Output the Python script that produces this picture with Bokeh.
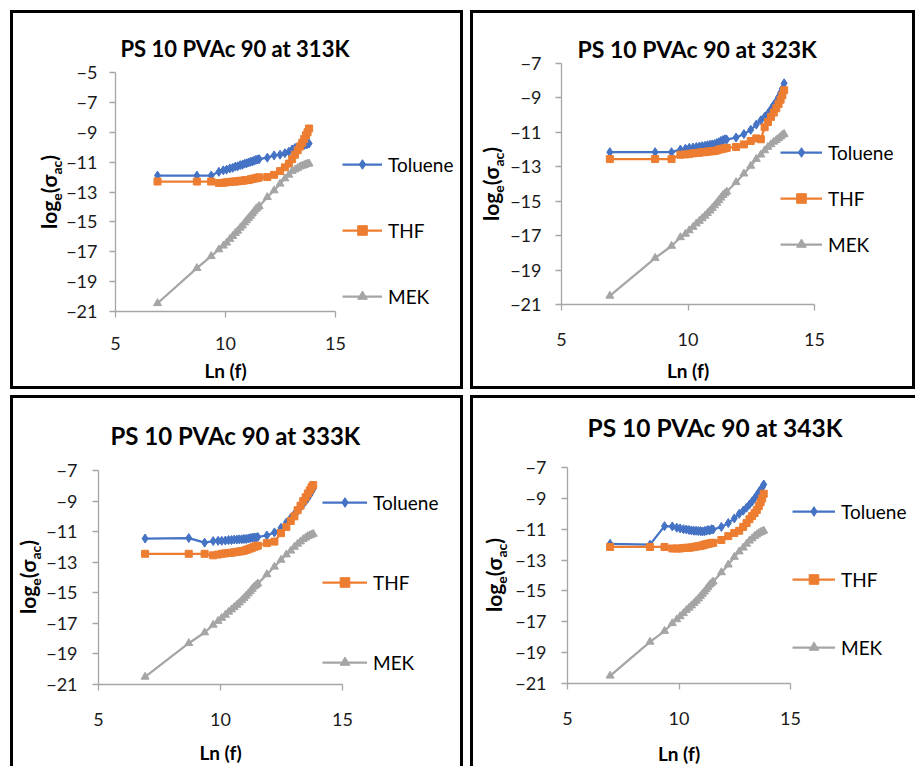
from bokeh.plotting import figure
from bokeh.models import Range1d, FixedTicker, Legend, LegendItem, Div, Spacer, Label
from bokeh.layouts import row, column
from bokeh.embed import file_html
from bokeh.resources import INLINE

# ---------------- data ----------------
ln_f = [6.91, 8.70, 9.35, 9.70, 9.90,
        10.05, 10.20, 10.33, 10.45, 10.56,
        10.67, 10.77, 10.87, 10.96, 11.05,
        11.14, 11.22, 11.30, 11.38, 11.46,
        11.53, 11.90, 12.21, 12.48, 12.70,
        12.88, 13.03, 13.16, 13.28, 13.39,
        13.49, 13.58, 13.66, 13.73, 13.80]

temperatures = ["313K", "323K", "333K", "343K"]
series_names = ["Toluene", "THF", "MEK"]

toluene_313 = [-11.9, -11.9, -11.9, -11.65, -11.55,
               -11.5, -11.42, -11.38, -11.3, -11.28,
               -11.2, -11.18, -11.1, -11.08, -11.02,
               -10.98, -10.95, -10.9, -10.85, -10.82,
               -10.8, -10.7, -10.55, -10.5, -10.4,
               -10.3, -10.15, -10.05, -10.0, -9.95,
               -9.9, -9.85, -9.82, -9.78, -9.75]
thf_313 = [-12.3, -12.3, -12.3, -12.4, -12.38,
           -12.35, -12.33, -12.3, -12.3, -12.28,
           -12.25, -12.25, -12.22, -12.2, -12.2,
           -12.15, -12.12, -12.1, -12.08, -12.05,
           -12.02, -12.0, -11.85, -11.6, -11.35,
           -11.1, -10.8, -10.5, -10.2, -9.95,
           -9.7, -9.45, -9.2, -9.0, -8.75]
mek_313 = [-20.45, -18.1, -17.3, -16.85, -16.6,
           -16.4, -16.15, -15.95, -15.75, -15.6,
           -15.4, -15.25, -15.05, -14.9, -14.75,
           -14.6, -14.45, -14.3, -14.15, -14.05,
           -13.95, -13.35, -12.9, -12.45, -12.1,
           -11.85, -11.6, -11.5, -11.4, -11.3,
           -11.25, -11.2, -11.15, -11.12, -11.1]

toluene_323 = [-12.15, -12.15, -12.15, -12.0, -11.95,
               -11.9, -11.88, -11.85, -11.82, -11.8,
               -11.78, -11.75, -11.72, -11.7, -11.68,
               -11.62, -11.58, -11.5, -11.45, -11.4,
               -11.42, -11.3, -11.1, -10.85, -10.55,
               -10.3, -10.1, -9.9, -9.65, -9.4,
               -9.2, -8.95, -8.7, -8.45, -8.15]
thf_323 = [-12.55, -12.55, -12.55, -12.3, -12.28,
           -12.25, -12.22, -12.2, -12.18, -12.15,
           -12.15, -12.12, -12.1, -12.1, -12.08,
           -12.05, -12.0, -11.98, -11.95, -11.92,
           -11.9, -11.85, -11.7, -11.5, -11.35,
           -11.4, -10.7, -10.4, -10.1, -9.85,
           -9.6, -9.35, -9.1, -8.85, -8.55]
mek_323 = [-20.5, -18.3, -17.6, -17.1, -16.9,
           -16.7, -16.5, -16.3, -16.15, -16.0,
           -15.85, -15.7, -15.55, -15.4, -15.25,
           -15.1, -14.95, -14.8, -14.65, -14.55,
           -14.45, -13.9, -13.4, -12.95, -12.55,
           -12.3, -12.05, -11.85, -11.7, -11.55,
           -11.45, -11.35, -11.25, -11.15, -11.1]

toluene_333 = [-11.45, -11.42, -11.72, -11.62, -11.6,
               -11.6, -11.58, -11.55, -11.55, -11.52,
               -11.52, -11.5, -11.5, -11.48, -11.48,
               -11.45, -11.42, -11.4, -11.38, -11.38,
               -11.35, -11.25, -11.05, -10.75, -10.4,
               -10.1, -9.85, -9.65, -9.4, -9.2,
               -9.0, -8.8, -8.6, -8.4, -8.2]
thf_333 = [-12.45, -12.45, -12.45, -12.55, -12.5,
           -12.45, -12.42, -12.4, -12.38, -12.35,
           -12.32, -12.3, -12.28, -12.25, -12.2,
           -12.15, -12.1, -12.05, -12.0, -11.95,
           -11.92, -11.75, -11.65, -11.1, -10.7,
           -10.3, -10.0, -9.6, -9.3, -9.0,
           -8.75, -8.5, -8.3, -8.1, -7.95]
mek_333 = [-20.5, -18.3, -17.6, -17.1, -16.85,
           -16.65, -16.45, -16.25, -16.1, -15.95,
           -15.8, -15.65, -15.5, -15.35, -15.2,
           -15.05, -14.9, -14.75, -14.6, -14.5,
           -14.4, -13.8, -13.3, -12.85, -12.5,
           -12.25, -12.0, -11.8, -11.65, -11.5,
           -11.4, -11.3, -11.25, -11.2, -11.15]

toluene_343 = [-11.95, -12.0, -10.8, -10.82, -10.9,
               -10.95, -11.0, -11.02, -11.05, -11.08,
               -11.1, -11.1, -11.12, -11.12, -11.15,
               -11.12, -11.1, -11.05, -11.08, -11.0,
               -11.02, -10.85, -10.6, -10.3, -10.0,
               -9.8, -9.6, -9.4, -9.2, -9.0,
               -8.8, -8.6, -8.45, -8.3, -8.1]
thf_343 = [-12.15, -12.15, -12.15, -12.25, -12.25,
           -12.25, -12.22, -12.2, -12.2, -12.18,
           -12.15, -12.12, -12.1, -12.08, -12.05,
           -12.0, -11.98, -11.95, -11.92, -11.9,
           -11.88, -11.7, -11.45, -11.25, -11.1,
           -10.85, -10.6, -10.35, -10.15, -9.95,
           -9.75, -9.5, -9.25, -9.0, -8.7]
mek_343 = [-20.5, -18.3, -17.6, -17.1, -16.85,
           -16.65, -16.45, -16.25, -16.1, -15.95,
           -15.8, -15.65, -15.5, -15.35, -15.2,
           -15.05, -14.9, -14.75, -14.6, -14.5,
           -14.4, -13.8, -13.3, -12.8, -12.45,
           -12.2, -11.95, -11.75, -11.6, -11.45,
           -11.35, -11.25, -11.2, -11.15, -11.1]

x_ticks = [5, 10, 15]
y_ticks_313 = [-21, -19, -17, -15, -13, -11, -9, -7, -5]
y_ticks_other = [-21, -19, -17, -15, -13, -11, -9, -7]

panel_series = [
    (toluene_313, thf_313, mek_313),
    (toluene_323, thf_323, mek_323),
    (toluene_333, thf_333, mek_333),
    (toluene_343, thf_343, mek_343),
]
panel_yticks = [y_ticks_313, y_ticks_other, y_ticks_other, y_ticks_other]

# ---------------- styling / layout ----------------
COLORS = ["#4472C4", "#ED7D31", "#A5A5A5"]
MARKERS = ["diamond", "square", "triangle"]
MSIZE = [9, 7, 8]
AXIS_GRAY = "#A6A6A6"
FONT = "Lato"
B = "3px solid black"

# w/h: figure size, d: y-label strip width, fw/fh: pixel size of the tick span,
# l/t/b: pixels left of, above and below the tick span
layout_cfg = [
    dict(w=397, h=373, d=50, l=52, t=59, b=75, fw=220, fh=239, tfs=22, tx=5, ty=24,
         ysd=12, xsd=19, xl=59, leg=(227, 3), lsp=42, gw=40, lx=37.5, ly=178.5,
         border={"border": B}),
    dict(w=403, h=373, d=36, l=52, t=50, b=82, fw=253, fh=241, tfs=23, tx=16, ty=15,
         ysd=14, xsd=22, xl=66, leg=(219, 48), lsp=22, gw=42, lx=19.5, ly=170.5,
         border={"border": B}),
    dict(w=414, h=368, d=33, l=52, t=72, b=82, fw=244, fh=214, tfs=24, tx=12, ty=35,
         ysd=15, xsd=22, xl=68, leg=(224, 10), lsp=56, gw=45, lx=16.5, ly=179,
         border={"border-top": B, "border-left": B, "border-right": B}),
    dict(w=400, h=368, d=42, l=52, t=69, b=83, fw=223, fh=216, tfs=24.5, tx=20, ty=40,
         ysd=15, xsd=22, xl=70, leg=(225, 24), lsp=44, gw=43, lx=22.5, ly=177,
         border={"border-top": B, "border-left": B}),
]


def make_panel(temp, series, yticks, c):
    x0, x1 = min(x_ticks), max(x_ticks)
    y0, y1 = min(yticks), max(yticks)
    ux = (x1 - x0) / c["fw"]   # data units per pixel
    uy = (y1 - y0) / c["fh"]
    # the frame fills the whole canvas; axes are pinned at the tick span so
    # that the title, the axis title and the legend are drawn inside it
    p = figure(width=c["w"], height=c["h"],
               x_range=Range1d(x0 - c["l"] * ux, x0 + (c["w"] - c["l"]) * ux),
               y_range=Range1d(y0 - c["b"] * uy, y1 + c["t"] * uy),
               output_backend="svg", toolbar_location=None,
               min_border_left=0, min_border_right=0,
               min_border_top=0, min_border_bottom=0,
               background_fill_color="white", border_fill_color="white")
    if "frame_align" in p.properties():
        p.frame_align = False
    p.grid.visible = False
    p.outline_line_color = None

    for ax in (p.xaxis, p.yaxis):
        ax.axis_line_color = AXIS_GRAY
        ax.axis_line_width = 1.3
        ax.major_tick_line_color = AXIS_GRAY
        ax.major_tick_line_width = 1.3
        ax.major_tick_out = 6
        ax.major_tick_in = 0
        ax.minor_tick_out = 0
        ax.minor_tick_in = 0
        ax.major_label_text_font = FONT
        ax.major_label_text_font_size = "18px"
        ax.major_label_text_color = "#1a1a1a"
    p.xaxis.bounds = (x0, x1)
    p.yaxis.bounds = (y0, y1)
    p.xaxis.fixed_location = y0
    p.yaxis.fixed_location = x0
    p.xaxis.ticker = FixedTicker(ticks=x_ticks)
    p.yaxis.ticker = FixedTicker(ticks=yticks)
    p.yaxis.major_label_standoff = c["ysd"]
    p.xaxis.major_label_standoff = c["xsd"]

    p.add_layout(Label(x=x0, y=y1, x_offset=c["tx"], y_offset=c["ty"],
                       text="PS 10 PVAc 90 at " + temp,
                       text_align="left", text_baseline="middle",
                       text_font=FONT, text_font_size=f'{c["tfs"]}px',
                       text_font_style="bold", text_color="black"))
    p.add_layout(Label(x=(x0 + x1) / 2, y=y0, y_offset=-c["xl"], text="Ln (f)",
                       text_align="center", text_baseline="middle",
                       text_font=FONT, text_font_size="19px",
                       text_font_style="bold", text_color="black"))

    items = []
    for name, ys, col, mk, ms in zip(series_names, series, COLORS, MARKERS, MSIZE):
        lr = p.line(ln_f, ys, line_color=col, line_width=2.25)
        sr = p.scatter(ln_f, ys, marker=mk, size=ms, fill_color=col, line_color=col)
        items.append(LegendItem(label=name, renderers=[lr, sr]))
    legend = Legend(items=items, location=(c["l"] + c["leg"][0], c["b"] + c["leg"][1]),
                    orientation="vertical",
                    spacing=c["lsp"], glyph_width=c["gw"], glyph_height=24,
                    label_height=24, label_standoff=6, padding=0, margin=0,
                    border_line_color=None, background_fill_alpha=0,
                    label_text_font=FONT, label_text_font_size="19px",
                    label_text_color="black")
    p.add_layout(legend)

    html = (
        f'<div style="position:relative;width:{c["d"]}px;height:{c["h"]}px;">'
        f'<div style="position:absolute;left:{c["lx"]}px;top:{c["ly"]}px;'
        'transform:translate(-50%,-50%) rotate(-90deg);white-space:nowrap;'
        f'font-family:{FONT};font-weight:bold;font-size:21px;line-height:1;color:black;">'
        'log<sub style="font-size:14px;">e</sub>(σ<sub style="font-size:14px;">ac</sub>)'
        '</div></div>'
    )
    ylab = Div(text=html, width=c["d"], height=c["h"], margin=0)
    return row(ylab, p, styles=c["border"])


panels = [make_panel(t, s, yt, c) for t, s, yt, c in
          zip(temperatures, panel_series, panel_yticks, layout_cfg)]

page = column(
    Spacer(height=10),
    row(Spacer(width=10), panels[0], Spacer(width=7), panels[1]),
    Spacer(height=6),
    row(Spacer(width=10), panels[2], Spacer(width=7), panels[3]),
)

open("out.html", "w").write(file_html(page, INLINE))
